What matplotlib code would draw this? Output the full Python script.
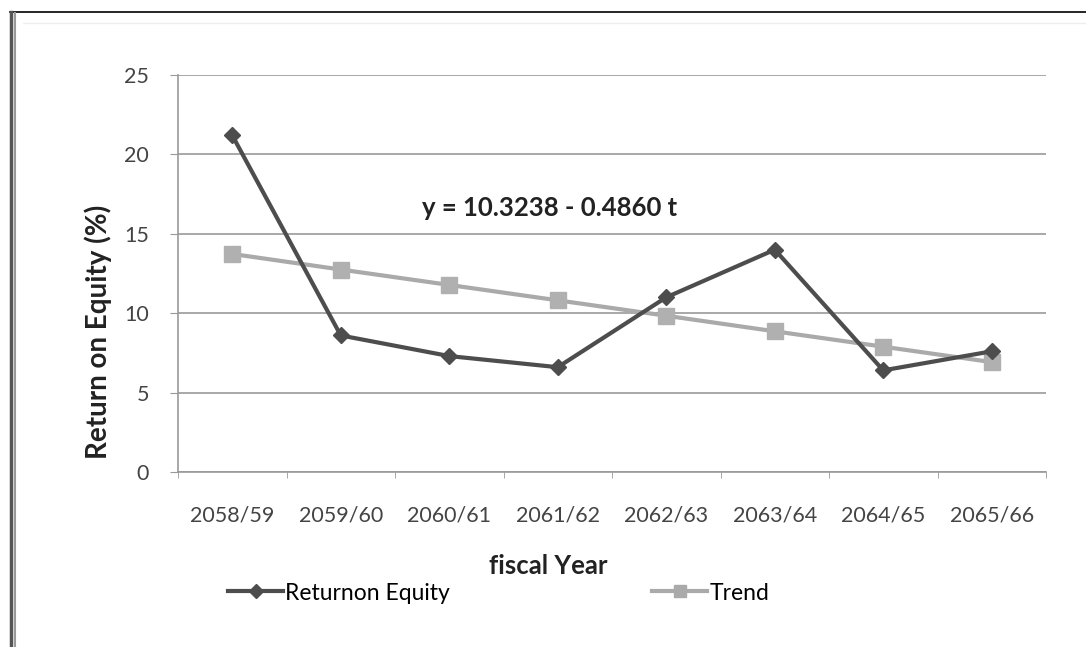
import matplotlib
matplotlib.use("Agg")
import matplotlib.pyplot as plt
from matplotlib.lines import Line2D

years = ["2058/59", "2059/60", "2060/61", "2061/62", "2062/63", "2063/64", "2064/65", "2065/66"]
roe = [21.2, 8.6, 7.3, 6.6, 11.0, 14.0, 6.4, 7.6]
trend = [13.73, 12.75, 11.78, 10.81, 9.84, 8.86, 7.89, 6.92]
yticks = [0, 5, 10, 15, 20, 25]
equation = "y = 10.3238 - 0.4860 t"

plt.rcParams['font.family'] = ['Lato', 'DejaVu Sans']

fig = plt.figure(figsize=(10.86, 6.47), dpi=100)
W, H = 1086, 647

# outer frame
fig.add_artist(Line2D([10/W, 1.0], [1-12/H, 1-12/H], transform=fig.transFigure, color='black', lw=1.2))
fig.add_artist(Line2D([11/W, 11/W], [0, 1-12/H], transform=fig.transFigure, color='#555555', lw=2.5))
fig.add_artist(Line2D([14.5/W, 14.5/W], [0, 1-13/H], transform=fig.transFigure, color='#999999', lw=1.5))
fig.add_artist(Line2D([23/W, 1.0], [1-23/H, 1-23/H], transform=fig.transFigure, color='#eeeeee', lw=1))

ax = fig.add_axes([178/W, 1-472/H, (1046-178)/W, (472-75)/H])
x = list(range(len(years)))

ax.plot(x, trend, color='#aaaaaa', lw=3, marker='s', markersize=11,
        markerfacecolor='#b0b0b0', markeredgecolor='#b0b0b0', zorder=3, label='Trend')
ax.plot(x, roe, color='#4d4d4d', lw=3, marker='D', markersize=8,
        markerfacecolor='#4d4d4d', markeredgecolor='#4d4d4d', zorder=4, label='Returnon Equity')

ax.set_xlim(-0.5, len(years) - 0.5)
ax.set_ylim(0, 25)
ax.set_yticks(yticks)
ax.set_yticklabels([str(v) for v in yticks], fontsize=15.5, color='#444444')
ax.set_xticks(x)
ax.set_xticklabels(years, fontsize=15.5, color='#444444')
ax.tick_params(axis='x', length=0, pad=24)
ax.set_xticks([i - 0.5 for i in range(len(years) + 1)], minor=True)
ax.tick_params(axis='x', which='minor', length=4, color='#999999', direction='out')
ax.tick_params(axis='y', length=6, color='#999999', direction='out', pad=15)

ax.grid(axis='y', color='#999999', lw=1.2)
ax.set_axisbelow(True)
for s in ['top', 'right']:
    ax.spines[s].set_visible(False)
ax.spines['left'].set_color('#999999')
ax.spines['bottom'].set_color('#999999')
ax.spines['left'].set_linewidth(1.2)
ax.spines['bottom'].set_linewidth(1.2)

fig.text(98/W, 1-332/H, "Return on Equity (%)", fontsize=20, fontweight='bold', color='#222222',
         rotation=90, ha='center', va='center')
fig.text(548/W, 1-566/H, "fiscal Year", fontsize=18.5, fontweight='bold', color='#222222',
         ha='center', va='center')

ax.text(1.75, 16.6, equation, fontsize=18.5, fontweight='bold', color='#222222', ha='left', va='center')

h1 = Line2D([], [], color='#4d4d4d', lw=3, marker='D', markersize=7)
h2 = Line2D([], [], color='#aaaaaa', lw=3, marker='s', markersize=9)
fig.legend([h1], ['Returnon Equity'], loc='center left', bbox_to_anchor=(228/W, 1-593/H),
           frameon=False, fontsize=16.5, handlelength=2.4, handletextpad=0.1, borderaxespad=0, borderpad=0)
fig.legend([h2], ['Trend'], loc='center left', bbox_to_anchor=(652/W, 1-593/H),
           frameon=False, fontsize=16.5, handlelength=2.4, handletextpad=0.1, borderaxespad=0, borderpad=0)

fig.savefig("out.png", dpi=100)
